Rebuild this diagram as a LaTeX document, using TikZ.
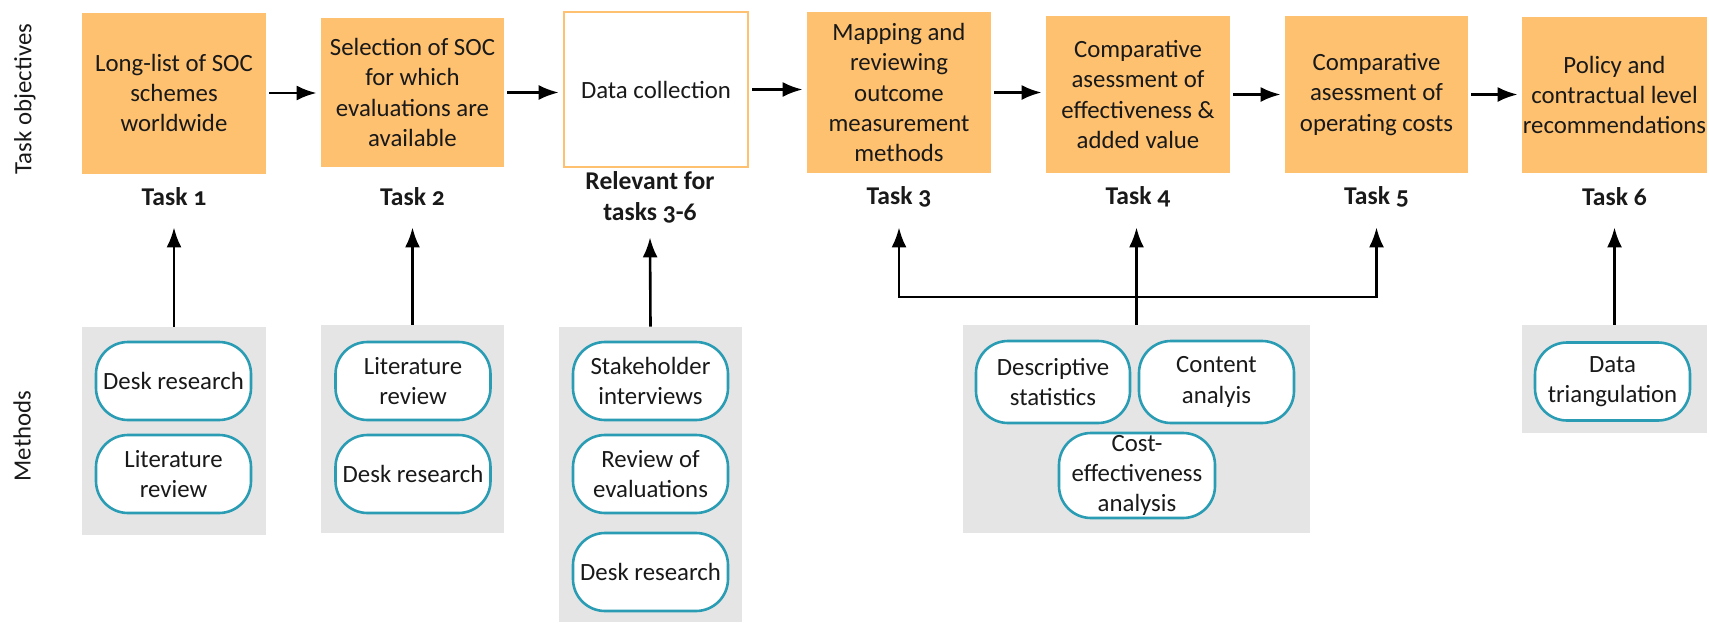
\documentclass[tikz,border=0pt]{standalone}
\usepackage{fontspec}
\setmainfont{Carlito}
\usetikzlibrary{arrows.meta}
\definecolor{taskorange}{RGB}{254,193,112}
\definecolor{methgray}{RGB}{229,229,229}
\definecolor{pillteal}{RGB}{42,157,181}
\definecolor{txt}{RGB}{25,25,25}
\tikzset{
  taskbox/.style={fill=taskorange, align=center, inner sep=0pt, text=txt},
  tasklab/.style={font=\fontsize{12.8}{15.8}\selectfont\bfseries\addfontfeatures{Numbers=OldStyle}, align=center, inner sep=0pt, minimum height=30pt, text=txt},
  methbox/.style={fill=methgray, inner sep=0pt},
  pill/.style={draw=pillteal, line width=1.3pt, fill=white, rounded corners=16pt, align=center,
    minimum width=77.5pt, minimum height=39pt, inner sep=1pt, text=txt},
  arr/.style={line width=1.3pt, -{Latex[length=10pt,width=7.5pt]}},
  ln/.style={line width=1.3pt}
}
\begin{document}
\begin{tikzpicture}[x=0.5pt, y=-0.5pt, font=\fontsize{12.4}{15.2}\selectfont]
\useasboundingbox (0,0) rectangle (1709,622);
% side labels
\node[rotate=90, text=txt] (sideobj) at (25,99) {Task objectives};
\node[rotate=90, text=txt] (sidemeth) at (22,436) {Methods};
% task objectives
\node[taskbox, minimum width=92pt, minimum height=80.5pt] (b1) at (174,93) {Long-list of SOC\\schemes\\worldwide};
\node[taskbox, minimum width=91.5pt, minimum height=74.5pt] (b2) at (412.5,92.5) {Selection of SOC\\for which\\evaluations are\\available};
\node[taskbox, fill=white, draw=taskorange, line width=1.3pt, minimum width=92pt, minimum height=77.5pt] (bd) at (656,89.5) {Data collection};
\node[taskbox, minimum width=92pt, minimum height=80.5pt] (b3) at (899,92.5) {Mapping and\\reviewing\\outcome\\measurement\\methods};
\node[taskbox, minimum width=92pt, minimum height=78.5pt] (b4) at (1138,94.5) {Comparative\\asessment of\\effectiveness \&\\added value};
\node[taskbox, minimum width=91.5pt, minimum height=78.5pt] (b5) at (1376.5,94.5) {Comparative\\asessment of\\operating costs};
\node[taskbox, minimum width=92.5pt, minimum height=78pt] (b6) at (1614.5,95) {Policy and\\contractual level\\recommendations};
\draw[arr, shorten <=1.5pt, shorten >=2pt] (b1.east) -- (b1.east -| b2.west);
\draw[arr, shorten <=1.5pt, shorten >=2pt] (b2.east) -- (b2.east -| bd.west);
\draw[arr, shorten <=1.5pt, shorten >=2pt] (bd.east) -- (bd.east -| b3.west);
\draw[arr, shorten <=1.5pt, shorten >=2pt] (b3.east) -- (b3.east -| b4.west);
\draw[arr, shorten <=1.5pt, shorten >=2pt] (b4.east) -- (b4.east -| b5.west);
\draw[arr, shorten <=1.5pt, shorten >=2pt] (b5.east) -- (b5.east -| b6.west);
% task labels
\node[tasklab] (l1) at (174,197) {Task 1};
\node[tasklab] (l2) at (412.5,197) {Task 2};
\node[tasklab, minimum height=39.5pt] (ld) at (650,197.5) {Relevant for\\tasks 3-6};
\node[tasklab] (l3) at (899,197) {Task 3};
\node[tasklab] (l4) at (1138,197) {Task 4};
\node[tasklab] (l5) at (1376.5,197) {Task 5};
\node[tasklab] (l6) at (1614.5,197) {Task 6};
% methods
\node[methbox, minimum width=92pt, minimum height=104pt] (g1) at (174,431) {};
\node[pill] (m11) at (173.5,381) {Desk research};
\node[pill] (m12) at (173.5,474) {Literature\\review};
\node[methbox, minimum width=91.5pt, minimum height=104pt] (g2) at (412.5,429) {};
\node[pill] (m21) at (413,381) {Literature\\review};
\node[pill] (m22) at (413,474) {Desk research};
\node[methbox, minimum width=91.5pt, minimum height=147.5pt] (g3) at (650.5,474.5) {};
\node[pill] (m31) at (650.5,381) {Stakeholder\\interviews};
\node[pill] (m32) at (650.5,474) {Review of\\evaluations};
\node[pill] (m33) at (650.5,572) {Desk research};
\node[methbox, minimum width=173.5pt, minimum height=104pt] (g4) at (1136.5,429) {};
\node[pill, minimum width=77pt, minimum height=41pt] (m41) at (1053,382) {Descriptive\\statistics};
\node[pill, minimum width=77.5pt, minimum height=41pt] (m42) at (1216.5,382) {Content\\analyis};
\node[pill, minimum width=78pt, minimum height=42.5pt, inner sep=0pt] (m43) at (1137,475.5) {Cost-\\effectiveness\\analysis};
\node[methbox, minimum width=92.5pt, minimum height=54pt] (g5) at (1614.5,379) {};
\node[pill] (m51) at (1612.5,381.5) {Data\\triangulation};
% connectors
\draw[arr] (g1.north) -- (l1.south);
\draw[arr] (g2.north) -- (l2.south);
\draw[arr] (g3.north) -- (ld.south);
\coordinate (fork) at (1136.5,297);
\draw[ln] (g4.north) -- (fork);
\draw[arr] (fork) -- (fork |- l4.south);
\draw[arr] (fork) -| (l3.south);
\draw[arr] (fork) -| (l5.south);
\draw[arr] (g5.north) -- (l6.south);
\end{tikzpicture}
\end{document}
